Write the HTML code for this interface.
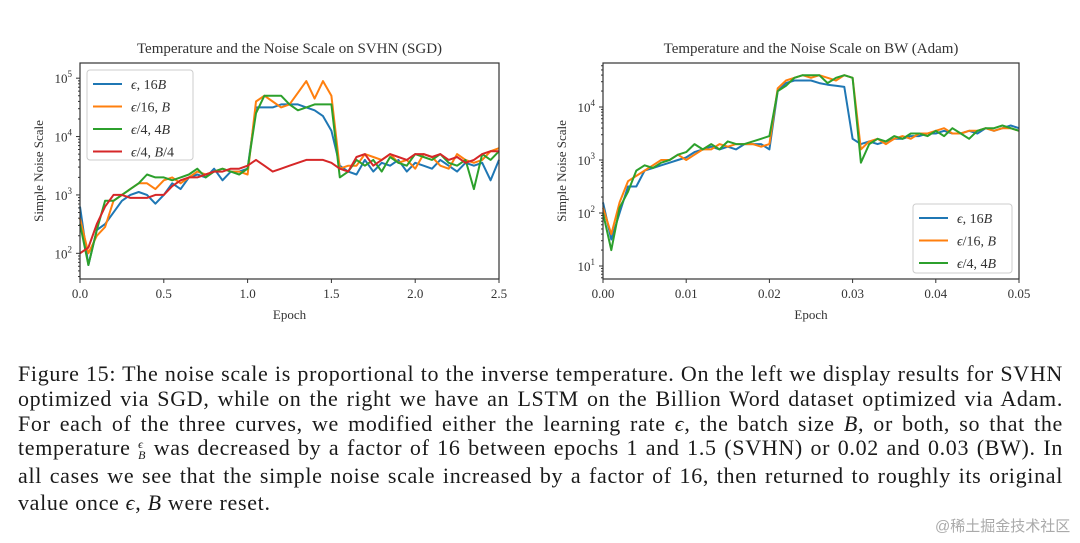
<!DOCTYPE html>
<html><head><meta charset="utf-8"><style>
body{margin:0;width:1080px;height:543px;background:#fff;position:relative;overflow:hidden;font-family:"Liberation Serif",serif;}
svg{position:absolute;left:0;top:0}
.cap{position:absolute;left:18px;width:1045px;font-size:22px;letter-spacing:0.68px;color:#1a1a1a;text-align:justify;text-align-last:justify;white-space:nowrap;line-height:24px}
.last{text-align-last:left}
.wm{position:absolute;left:935px;top:515px;font-size:15px;color:#aaa;font-family:"Liberation Sans","Noto Sans CJK SC",sans-serif}
</style></head><body>
<svg id="chart" width="1080" height="543"></svg>
<div class="cap" style="top:362px">Figure 15: The noise scale is proportional to the inverse temperature. On the left we display results for SVHN</div>
<div class="cap" style="top:387px">optimized via SGD, while on the right we have an LSTM on the Billion Word dataset optimized via Adam.</div>
<div class="cap" style="top:412px">For each of the three curves, we modified either the learning rate <i>ϵ</i>, the batch size <i>B</i>, or both, so that the</div>
<div class="cap" style="top:436px">temperature <span style="display:inline-block;vertical-align:middle;font-size:12px;line-height:11px;text-align:center"><i>ϵ</i><br><i>B</i></span> was decreased by a factor of 16 between epochs 1 and 1.5 (SVHN) or 0.02 and 0.03 (BW). In</div>
<div class="cap" style="top:464px">all cases we see that the simple noise scale increased by a factor of 16, then returned to roughly its original</div>
<div class="cap last" style="top:491px">value once <i>ϵ</i>, <i>B</i> were reset.</div>
<div class="wm">@稀土掘金技术社区</div>
<script>
// Left chart (SVHN), log10 values sampled every 0.05 epoch
const leftEpochs = Array.from({length:51},(_, i)=>+(i*0.05).toFixed(3));
const leftBlue = [2.8,1.8,2.4,2.5,2.7,2.9,3.0,3.05,3.0,2.85,3.0,3.2,3.1,3.3,3.35,3.3,3.45,3.25,3.4,3.4,3.45,4.5,4.5,4.5,4.55,4.55,4.55,4.5,4.45,4.35,4.1,3.5,3.4,3.35,3.6,3.4,3.55,3.5,3.6,3.4,3.55,3.5,3.45,3.6,3.5,3.4,3.55,3.5,3.55,3.25,3.6];
const leftOrange = [2.6,2.0,2.3,2.45,2.9,3.0,3.1,3.2,3.2,3.1,3.25,3.3,3.2,3.3,3.4,3.35,3.4,3.45,3.4,3.4,3.35,4.6,4.7,4.6,4.5,4.55,4.75,4.95,4.65,4.95,4.7,3.45,3.5,3.5,3.7,3.65,3.6,3.7,3.55,3.6,3.45,3.7,3.65,3.5,3.45,3.7,3.6,3.55,3.6,3.75,3.8];
const leftGreen = [2.5,1.8,2.4,2.9,2.9,3.0,3.1,3.2,3.35,3.3,3.3,3.25,3.3,3.35,3.45,3.3,3.4,3.45,3.4,3.35,3.45,4.4,4.7,4.7,4.7,4.55,4.45,4.5,4.55,4.55,4.55,3.3,3.4,3.6,3.5,3.6,3.4,3.65,3.55,3.5,3.7,3.65,3.6,3.7,3.55,3.5,3.6,3.1,3.7,3.6,3.75];
const leftRed = [2.0,2.1,2.5,2.8,3.0,3.0,2.95,2.95,2.95,3.0,3.0,3.15,3.25,3.3,3.3,3.35,3.4,3.4,3.45,3.45,3.5,3.6,3.5,3.4,3.45,3.5,3.55,3.6,3.6,3.6,3.55,3.45,3.4,3.65,3.7,3.5,3.6,3.7,3.65,3.6,3.7,3.7,3.65,3.7,3.6,3.65,3.55,3.6,3.7,3.75,3.75];
const leftXTicks = ["0.0","0.5","1.0","1.5","2.0","2.5"];
const leftLabels = ["ϵ, 16B","ϵ/16, B","ϵ/4, 4B","ϵ/4, B/4"];
// Right chart (BW), log10 values sampled every 0.001 epoch
const rightEpochs = Array.from({length:51},(_, i)=>+(i*0.001).toFixed(4));
const rightBlue = [2.2,1.5,2.0,2.5,2.5,2.8,2.85,2.9,2.95,3.0,3.05,3.15,3.2,3.25,3.2,3.25,3.2,3.3,3.3,3.3,3.2,4.3,4.45,4.5,4.5,4.5,4.45,4.42,4.4,4.38,3.4,3.3,3.35,3.3,3.35,3.4,3.4,3.45,3.45,3.5,3.5,3.55,3.5,3.5,3.55,3.5,3.6,3.55,3.6,3.65,3.6];
const rightOrange = [2.1,1.6,2.2,2.6,2.7,2.8,2.9,3.0,3.0,3.1,3.0,3.1,3.2,3.2,3.3,3.25,3.3,3.3,3.3,3.25,3.3,4.35,4.5,4.55,4.6,4.55,4.6,4.55,4.5,4.6,4.55,3.2,3.35,3.4,3.3,3.4,3.45,3.4,3.5,3.5,3.55,3.6,3.5,3.5,3.55,3.55,3.6,3.55,3.6,3.6,3.55];
const rightGreen = [2.0,1.3,2.1,2.4,2.8,2.9,2.85,2.95,3.0,3.1,3.15,3.3,3.2,3.3,3.2,3.35,3.3,3.3,3.35,3.4,3.45,4.3,4.4,4.55,4.6,4.6,4.6,4.45,4.55,4.6,4.55,2.95,3.3,3.4,3.35,3.45,3.4,3.5,3.5,3.45,3.55,3.45,3.6,3.5,3.4,3.55,3.6,3.6,3.65,3.6,3.55];
const rightXTicks = ["0.00","0.01","0.02","0.03","0.04","0.05"];
const rightLabels = ["ϵ, 16B","ϵ/16, B","ϵ/4, 4B"];
const colors = ["#1f77b4","#ff7f0e","#2ca02c","#d62728"];

const svg = document.getElementById('chart');
const NS = 'http://www.w3.org/2000/svg';
function mk(tag, attrs, parent){const e=document.createElementNS(NS,tag);for(const k in attrs)e.setAttribute(k,attrs[k]);(parent||svg).appendChild(e);return e;}
function txt(s,attrs,parent){const e=mk('text',attrs,parent);e.textContent=s;return e;}

function drawChart(cfg){
  const g = mk('g',{});
  
  
  const {x0,x1,y0,y1,xmax,lmin,lmax}=cfg;
  const sx=v=>x0+(v/xmax)*(x1-x0);
  const sy=l=>y1-(l-lmin)/(lmax-lmin)*(y1-y0);
  const t=txt(cfg.title,{x:(x0+x1)/2,y:y0-10,'text-anchor':'middle','font-size':15,fill:'#333','font-family':'Liberation Serif,serif'},g);
  
  
  cfg.series.forEach((s,i)=>{
    const d=s.map((v,j)=>(j?'L':'M')+sx(cfg.xs[j]).toFixed(1)+','+sy(v).toFixed(1)).join('');
    const p=mk('path',{d,fill:'none',stroke:colors[i],'stroke-width':2,'stroke-linejoin':'round'},g);
    
    
  });
  mk('rect',{x:x0,y:y0,width:x1-x0,height:y1-y0,fill:'none',stroke:'#333','stroke-width':1.2},g);
  cfg.xticks.forEach((lab,i)=>{
    const x=x0+i*(x1-x0)/(cfg.xticks.length-1);
    mk('line',{x1:x,x2:x,y1:y1,y2:y1+4,stroke:'#333'},g);
    const tl=txt(lab,{x,y:y1+19,'text-anchor':'middle','font-size':13,fill:'#333'},g);
    
    
  });
  const xl=txt('Epoch',{x:(x0+x1)/2,y:y1+40,'text-anchor':'middle','font-size':13,fill:'#333'},g);
  
  
  for(let d=Math.floor(lmin);d<=Math.ceil(lmax);d++){
    for(let m=1;m<10;m++){
      const l=d+Math.log10(m); if(l<lmin||l>lmax) continue;
      const y=sy(l);
      mk('line',{x1:x0-(m===1?4:2),x2:x0,y1:y,y2:y,stroke:'#333'},g);
      if(m===1){
        const tl=mk('text',{x:x0-8,y:y+5,'text-anchor':'end','font-size':13,fill:'#333'},g);
        tl.innerHTML='10<tspan dy="-6" font-size="9">'+d+'</tspan>';
        
        
      }
    }
  }
  const yl=txt('Simple Noise Scale',{x:0,y:0,'text-anchor':'middle','font-size':13,fill:'#333',transform:`translate(${x0-37},${(y0+y1)/2}) rotate(-90)`},g);
  
  
  const L=cfg.legend;
  const lg=mk('g',{},g);
  
  
  mk('rect',{x:L.x,y:L.y,width:L.w,height:L.h,fill:'#fff',stroke:'#ccc',rx:3},lg);
  cfg.labels.forEach((lab,i)=>{
    const yy=L.y+14+i*22.5;
    mk('line',{x1:L.x+6,x2:L.x+35,y1:yy,y2:yy,stroke:colors[i],'stroke-width':2},lg);
    const e=mk('text',{x:L.x+44,y:yy+5,'font-size':14,fill:'#333'},lg);
    e.innerHTML=lab.replace(/B/g,'<tspan font-style="italic">B</tspan>').replace(/ϵ/,'<tspan font-style="italic">ϵ</tspan>');
    
    
  });
}
drawChart({name:'svhn-chart',title:'Temperature and the Noise Scale on SVHN (SGD)',x0:80,x1:499,y0:63,y1:279,xmax:2.5,lmin:1.56,lmax:5.26,
  xs:leftEpochs,series:[leftBlue,leftOrange,leftGreen,leftRed],xticks:leftXTicks,labels:leftLabels,legend:{x:87,y:70,w:106,h:90}});
drawChart({name:'bw-chart',title:'Temperature and the Noise Scale on BW (Adam)',x0:603,x1:1019,y0:63,y1:279,xmax:0.05,lmin:0.755,lmax:4.83,
  xs:rightEpochs,series:[rightBlue,rightOrange,rightGreen],xticks:rightXTicks,labels:rightLabels,legend:{x:913,y:204,w:99,h:69}});
</script>
</body></html>
